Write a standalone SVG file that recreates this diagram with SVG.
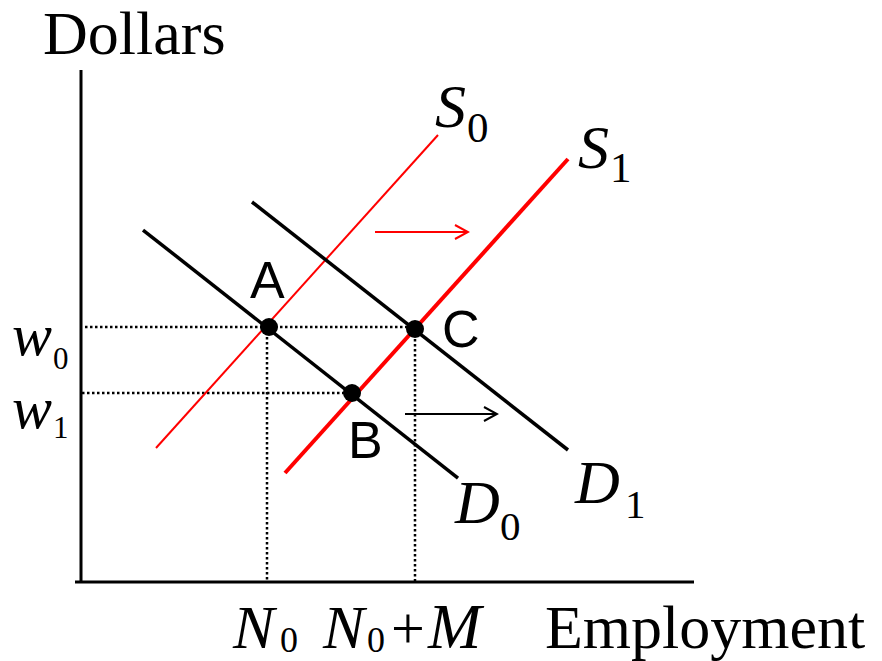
<svg xmlns="http://www.w3.org/2000/svg" width="882" height="661" viewBox="0 0 882 661">
<style>
.ax{stroke:#000;stroke-width:3;fill:none}
.dot{stroke:#000;stroke-width:2.5;stroke-dasharray:2.5 2.5;fill:none}
.dem{stroke:#000;stroke-width:3.5;fill:none}
.s0{stroke:#f00;stroke-width:2;fill:none}
.s1{stroke:#f00;stroke-width:4;fill:none}
.sans{font-family:'Liberation Sans',Arial,sans-serif;fill:#000;font-size:52px}
.pt{fill:#000}
</style>
<defs>
<marker id="ahr" markerWidth="16" markerHeight="16" refX="14" refY="8" orient="auto" markerUnits="userSpaceOnUse">
<path d="M1,1 L14,8 L1,15" fill="none" stroke="#f00" stroke-width="2"/>
</marker>
<marker id="ahk" markerWidth="16" markerHeight="16" refX="14" refY="8" orient="auto" markerUnits="userSpaceOnUse">
<path d="M1,1 L14,8 L1,15" fill="none" stroke="#000" stroke-width="2"/>
</marker>
</defs>
<g id="axes">
<line class="ax" x1="81" y1="70" x2="81" y2="582"/>
<line class="ax" x1="75" y1="582" x2="694" y2="582"/>
<text font-family="Liberation Serif, Times New Roman, DejaVu Serif, serif" x="43" y="54" font-size="62">Dollars</text>
<text font-family="Liberation Serif, Times New Roman, DejaVu Serif, serif" x="545" y="648" font-size="62">Employment</text>
</g>
<g id="connectors">
<line class="dot" x1="85" y1="327" x2="414" y2="327"/>
<line class="dot" x1="82" y1="393" x2="352" y2="393"/>
<line class="dot" x1="267" y1="327" x2="267" y2="581"/>
<line class="dot" x1="415" y1="329" x2="415" y2="581"/>
</g>
<g id="S0" font-family="Liberation Serif, Times New Roman, DejaVu Serif, serif">
<line class="s0" x1="156" y1="448" x2="438" y2="135"/>
<text font-style="italic" x="435" y="127" font-size="62">S</text>
<text x="467" y="142" font-size="43">0</text>
</g>
<g id="S1" font-family="Liberation Serif, Times New Roman, DejaVu Serif, serif">
<line class="s1" x1="285" y1="473" x2="568" y2="159"/>
<text font-style="italic" x="578" y="168" font-size="62">S</text>
<text x="610" y="182" font-size="43">1</text>
</g>
<g id="D0" font-family="Liberation Serif, Times New Roman, DejaVu Serif, serif">
<line class="dem" x1="143" y1="230" x2="458" y2="478"/>
<text font-style="italic" x="455" y="523" font-size="62">D</text>
<text x="500" y="540" font-size="41">0</text>
</g>
<g id="D1" font-family="Liberation Serif, Times New Roman, DejaVu Serif, serif">
<line class="dem" x1="252" y1="202" x2="568" y2="450"/>
<text font-style="italic" x="575" y="503" font-size="62">D</text>
<text x="625" y="518" font-size="41">1</text>
</g>
<g id="shift-arrows">
<line x1="375" y1="232" x2="468" y2="232" stroke="#f00" stroke-width="2" marker-end="url(#ahr)"/>
<line x1="405" y1="414" x2="497" y2="414" stroke="#000" stroke-width="2" marker-end="url(#ahk)"/>
</g>
<g id="A">
<circle class="pt" cx="269" cy="327" r="9"/>
<text class="sans" x="250" y="298">A</text>
</g>
<g id="B">
<circle class="pt" cx="352" cy="393" r="9"/>
<text class="sans" x="348" y="458">B</text>
</g>
<g id="C">
<circle class="pt" cx="415" cy="329" r="9"/>
<text class="sans" x="442" y="347">C</text>
</g>
<g id="w0" font-family="Liberation Serif, Times New Roman, DejaVu Serif, serif">
<text font-style="italic" x="12" y="355" font-size="60">w</text>
<text x="53" y="369" font-size="31">0</text>
</g>
<g id="w1" font-family="Liberation Serif, Times New Roman, DejaVu Serif, serif">
<text font-style="italic" x="12" y="428" font-size="60">w</text>
<text x="53" y="438" font-size="31">1</text>
</g>
<g id="N0" font-family="Liberation Serif, Times New Roman, DejaVu Serif, serif">
<text font-style="italic" x="233" y="648" font-size="62">N</text>
<text x="280" y="652" font-size="36">0</text>
</g>
<g id="N0M" font-family="Liberation Serif, Times New Roman, DejaVu Serif, serif">
<text font-style="italic" x="323" y="648" font-size="62">N</text>
<text x="367" y="652" font-size="36">0</text>
<text x="391" y="648" font-size="60">+</text>
<text font-style="italic" x="428" y="648" font-size="64">M</text>
</g>
</svg>
